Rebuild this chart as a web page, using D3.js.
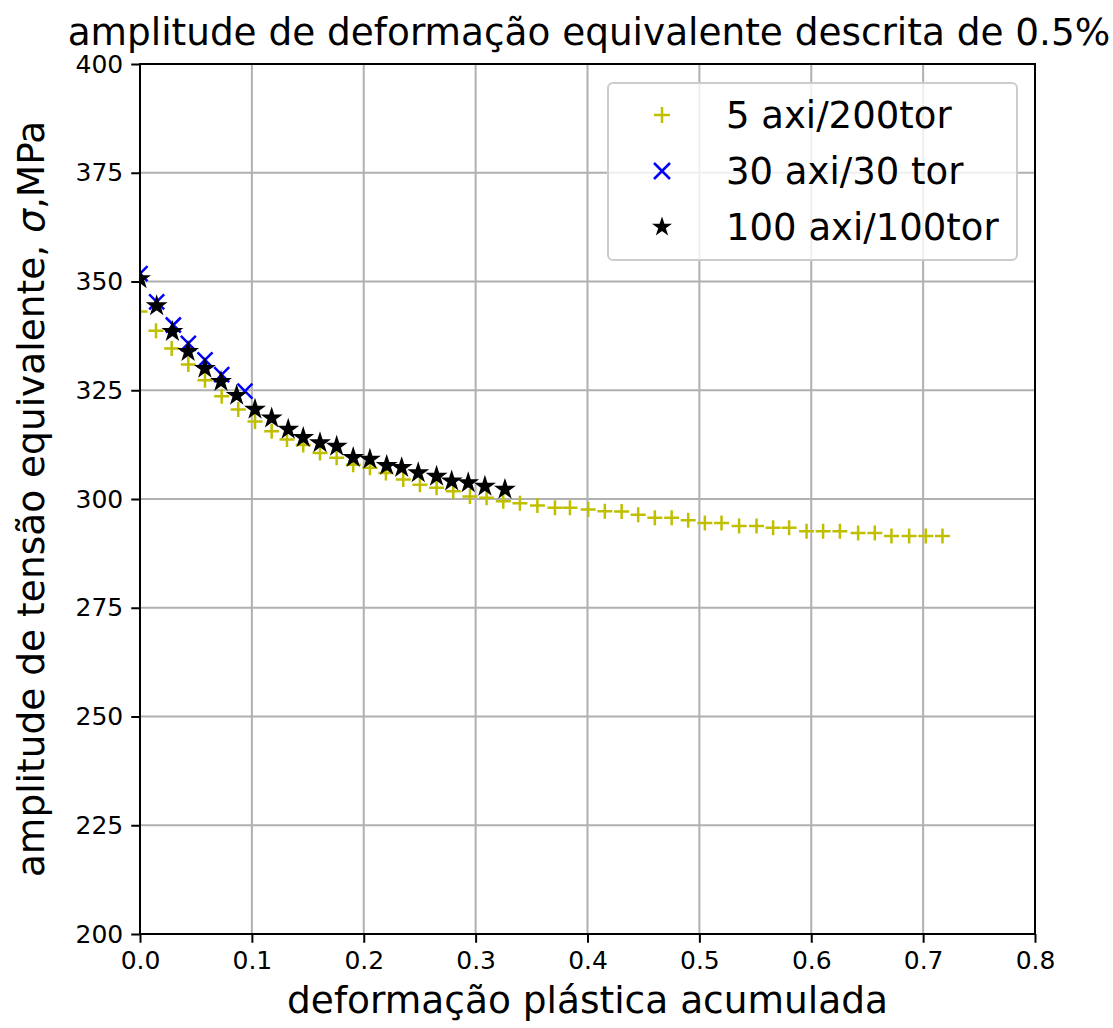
<!DOCTYPE html>
<html>
<head>
<meta charset="utf-8">
<script src="https://cdn.jsdelivr.net/npm/d3@7"></script>
<style>
  body { margin: 0; background: #fff; }
  text { font-family: "DejaVu Sans", sans-serif; fill: #000; }
</style>
</head>
<body>
<div id="my_dataviz"></div>
<script>
// data
var xTicks = [0, 0.1, 0.2, 0.3, 0.4, 0.5, 0.6, 0.7, 0.8];
var yTicks = [200, 225, 250, 275, 300, 325, 350, 375, 400];

// 5 axi/200tor
var yelX = [0, 0.0143, 0.0283, 0.0432, 0.0581, 0.073, 0.0878, 0.1028, 0.1177, 0.1314,
  0.1459, 0.1609, 0.1758, 0.1906, 0.2055, 0.2198, 0.2353, 0.2502, 0.2651, 0.28,
  0.2949, 0.3098, 0.3247, 0.3396, 0.3552, 0.3709, 0.3843, 0.4006, 0.4155, 0.4305,
  0.4453, 0.4602, 0.4752, 0.49, 0.5049, 0.5198, 0.5355, 0.5511, 0.5659, 0.5802,
  0.5958, 0.6106, 0.6256, 0.6419, 0.6568, 0.6717, 0.6875, 0.7024, 0.7173];
var yelY = [343.1, 338.7, 334.6, 330.9, 327.3, 323.6, 320.6, 317.8, 315.6, 313.7,
  312.4, 310.6, 309.5, 307.9, 307.2, 306.0, 304.5, 303.3, 302.6, 301.8,
  300.6, 300.3, 299.5, 299.0, 298.5, 298.0, 298.0, 297.6, 297.2, 297.1,
  296.4, 295.7, 295.7, 295.1, 294.5, 294.5, 293.8, 293.8, 293.4, 293.4,
  292.6, 292.6, 292.6, 292.2, 292.2, 291.5, 291.5, 291.5, 291.5];

// 30 axi/30 tor
var bluX = [0, 0.0149, 0.0298, 0.0432, 0.0581, 0.073, 0.0938];
var bluY = [351.8, 345.3, 340.0, 335.8, 332.0, 328.6, 324.8];

// 100 axi/100tor
var blkX = [0, 0.0149, 0.029, 0.043, 0.058, 0.0724, 0.0864, 0.1028, 0.1177, 0.1325,
  0.1459, 0.1609, 0.1758, 0.1906, 0.2055, 0.2205, 0.2339, 0.2487, 0.2651, 0.2786,
  0.2934, 0.3083, 0.3262];
var blkY = [350.6, 344.4, 338.5, 333.9, 330.0, 327.0, 323.8, 320.6, 318.6, 316.0,
  314.1, 312.9, 312.1, 309.5, 309.1, 307.7, 307.2, 306.0, 305.2, 304.1,
  303.7, 302.9, 302.2];

var series = [
  {name: "5 axi/200tor", x: yelX, y: yelY, color: "#bfbf00", marker: "plus"},
  {name: "30 axi/30 tor", x: bluX, y: bluY, color: "#0000ff", marker: "x"},
  {name: "100 axi/100tor", x: blkX, y: blkY, color: "#000000", marker: "star"}
];

// set the dimensions and margins of the graph
var W = 1113, H = 1028;
var margin = {top: 64, right: 78, bottom: 94, left: 140},
  width = W - margin.left - margin.right,
  height = H - margin.top - margin.bottom;

var svg = d3.select("#my_dataviz")
  .append("svg")
    .attr("width", W)
    .attr("height", H);

var g = svg.append("g")
  .attr("transform", "translate(" + margin.left + "," + margin.top + ")");

var x = d3.scaleLinear().domain([0, 0.8]).range([0, width]);
var y = d3.scaleLinear().domain([200, 400]).range([height, 0]);

// grid
g.append("g").selectAll("line").data(xTicks).enter().append("line")
  .attr("x1", d => x(d)).attr("x2", d => x(d))
  .attr("y1", 0).attr("y2", height)
  .attr("stroke", "#b0b0b0").attr("stroke-width", 2);
g.append("g").selectAll("line").data(yTicks).enter().append("line")
  .attr("y1", d => y(d)).attr("y2", d => y(d))
  .attr("x1", 0).attr("x2", width)
  .attr("stroke", "#b0b0b0").attr("stroke-width", 2);

// axes
var xAxis = g.append("g")
  .attr("transform", "translate(0," + height + ")")
  .call(d3.axisBottom(x).tickValues(xTicks).tickFormat(d3.format(".1f")).tickSize(8.75).tickPadding(8));
var yAxis = g.append("g")
  .call(d3.axisLeft(y).tickValues(yTicks).tickFormat(d3.format("d")).tickSize(8.75).tickPadding(8));

[xAxis, yAxis].forEach(function(a) {
  a.select(".domain").remove();
  a.selectAll("line").attr("stroke", "#000").attr("stroke-width", 2);
  a.selectAll("text").attr("font-size", "25px").attr("font-family", "DejaVu Sans").attr("fill", "#000");
});

// markers
var clip = g.append("clipPath").attr("id", "clip")
  .append("rect").attr("width", width).attr("height", height);

function markerPath(type, s) {
  var h = s / 2;
  if (type == "plus") return "M" + (-h) + ",0H" + h + "M0," + (-h) + "V" + h;
  if (type == "x") return "M" + (-h) + "," + (-h) + "L" + h + "," + h + "M" + (-h) + "," + h + "L" + h + "," + (-h);
  // five point star, inner radius ratio 0.381966
  var pts = [];
  for (var i = 0; i < 10; i++) {
    var r = (i % 2 == 0) ? h : h * 0.381966;
    var a = -Math.PI / 2 + i * Math.PI / 5;
    pts.push([r * Math.cos(a), r * Math.sin(a)]);
  }
  return "M" + pts.map(p => p[0].toFixed(2) + "," + p[1].toFixed(2)).join("L") + "Z";
}

var plot = g.append("g").attr("clip-path", "url(#clip)");
series.forEach(function(s) {
  plot.append("g").selectAll("path")
    .data(s.x.map((v, i) => [v, s.y[i]]))
    .enter()
    .append("path")
      .attr("transform", d => "translate(" + x(d[0]) + "," + y(d[1]) + ")")
      .attr("d", markerPath(s.marker, 15))
      .attr("fill", s.marker == "star" ? s.color : "none")
      .attr("stroke", s.color)
      .attr("stroke-width", 2.5)
      .attr("stroke-linejoin", "miter");
});

// spines
g.append("rect")
  .attr("width", width).attr("height", height)
  .attr("fill", "none").attr("stroke", "#000").attr("stroke-width", 2);

// legend
var leg = svg.append("g");
leg.append("rect")
  .attr("x", 608).attr("y", 83).attr("width", 409).attr("height", 177)
  .attr("rx", 5).attr("ry", 5)
  .attr("fill", "#fff").attr("fill-opacity", 0.8)
  .attr("stroke", "#cccccc").attr("stroke-width", 2);
series.forEach(function(s, i) {
  var cy = 115 + i * 56;
  leg.append("path")
    .attr("transform", "translate(662," + cy + ")")
    .attr("d", markerPath(s.marker, s.marker == "star" ? 13 : 16))
    .attr("fill", s.marker == "star" ? s.color : "none")
    .attr("stroke", s.color)
    .attr("stroke-width", 2.5);
  leg.append("text")
    .attr("x", 726).attr("y", cy + 13)
    .attr("font-size", "37px")
    .text(s.name);
});

// title
svg.append("text")
  .attr("x", 589).attr("y", 45)
  .attr("text-anchor", "middle")
  .attr("font-size", "37.4px")
  .text("amplitude de deformação equivalente descrita de 0.5%");

// x label
svg.append("text")
  .attr("x", margin.left + width / 2).attr("y", 1013)
  .attr("text-anchor", "middle")
  .attr("font-size", "37.5px")
  .text("deformação plástica acumulada");

// y label
var yl = svg.append("text")
  .attr("transform", "translate(44," + (margin.top + height / 2) + ") rotate(-90)")
  .attr("text-anchor", "middle")
  .attr("font-size", "37.5px");
yl.append("tspan").text("amplitude de tensão equivalente, ");
yl.append("tspan").attr("font-style", "italic").text("σ");
yl.append("tspan").text(",MPa");
</script>
</body>
</html>
